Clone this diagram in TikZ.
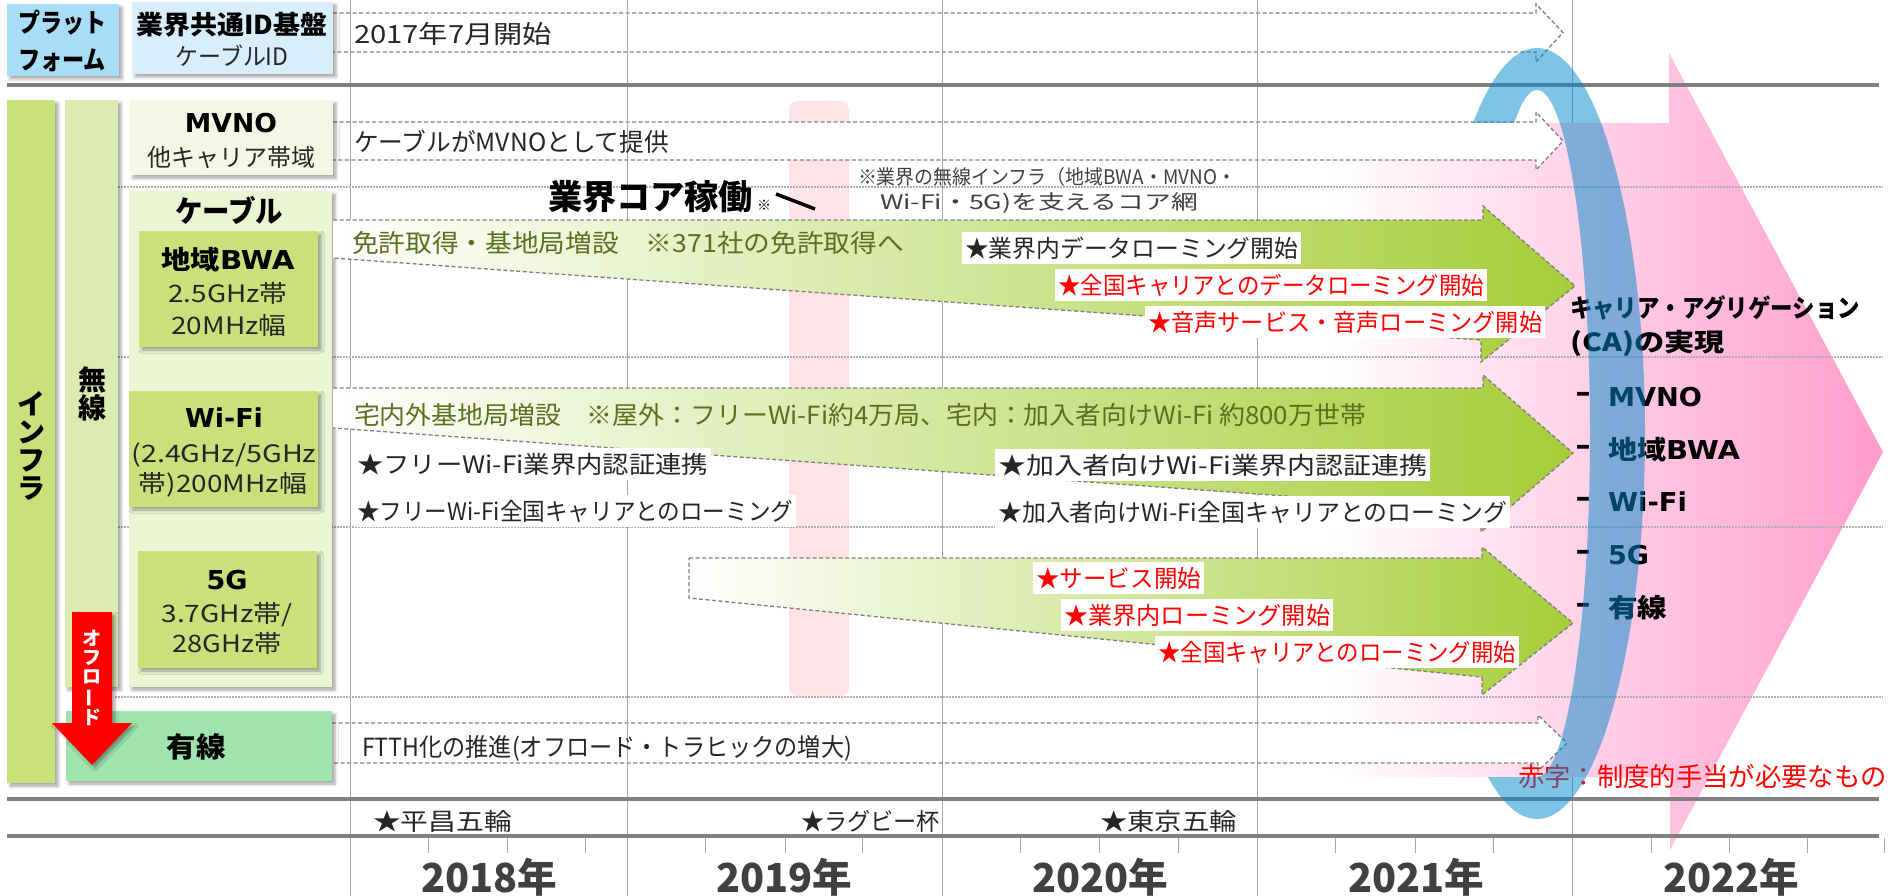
\documentclass[tikz,border=0pt]{standalone}
\usepackage{fontspec}
\setmainfont{Noto Sans CJK JP}
\newfontfamily\dvfont{DejaVu Sans}
\usepackage{graphicx}
\usetikzlibrary{shadows.blur}
\definecolor{platblue}{HTML}{A8DCF7}
\definecolor{idblue}{HTML}{D8EFFB}
\definecolor{infragreen}{HTML}{C9E07B}
\definecolor{musengreen}{HTML}{DCEBB1}
\definecolor{mvnobg}{HTML}{F3F8E4}
\definecolor{cablebg}{HTML}{EBF5D4}
\definecolor{yusengreen}{HTML}{9FE4AF}
\definecolor{pinkbar}{HTML}{FFE3E7}
\definecolor{pinkmid}{HTML}{FFD2E2}
\definecolor{pinkend}{HTML}{FF9CCC}
\definecolor{arrgreen}{HTML}{A6CE39}
\definecolor{olive}{HTML}{5B6F1F}
\definecolor{dashgray}{HTML}{7F7F7F}
\definecolor{gridgray}{HTML}{A6A6A6}
\definecolor{thickgray}{HTML}{808080}
\definecolor{dotgray}{HTML}{B0B0B0}
\definecolor{ringblue}{HTML}{0088CC}
\definecolor{txtcol}{HTML}{262626}
\definecolor{yeargray}{HTML}{404040}
\definecolor{notegray}{HTML}{404040}
\definecolor{redtxt}{HTML}{FF0000}
\newcommand{\fitw}[2]{\resizebox{#1pt}{\height}{#2}}
\newcommand{\fsz}[1]{\fontsize{#1pt}{#1pt}\selectfont}
\begin{document}
\begin{tikzpicture}[x=1pt,y=-1pt,
  sbox/.style={inner sep=0pt, outer sep=0pt, draw=none, anchor=north west,
    blur shadow={shadow xshift=3pt, shadow yshift=-3pt, shadow blur radius=3pt, shadow opacity=35}},
  txt/.style={inner sep=0pt, outer sep=0pt, text=txtcol},
  lab/.style={fill=white, inner xsep=3pt, inner ysep=0pt, minimum height=32pt, anchor=west, font=\fsz{24}},
  yr/.style={inner sep=0pt, font=\fsz{40}\bfseries, text=yeargray},
  darr/.style={draw=dashgray, line width=1.3pt, dash pattern=on 4pt off 2.5pt, fill=white},
  garr/.style={draw=dashgray, line width=1.3pt, dash pattern=on 4pt off 2.5pt, left color=white, right color=arrgreen},
  vgrid/.style={draw=gridgray, line width=1pt},
  hthick/.style={draw=thickgray, line width=3.5pt},
  hdot/.style={draw=dotgray, line width=1.3pt, dash pattern=on 1.5pt off 1.5pt},
  listdash/.style={txt, font=\fsz{30}\bfseries\dvfont, text=black},
  listlab/.style={txt, anchor=west, font=\fsz{26}\bfseries, text=black}
]
\useasboundingbox (0,0) rectangle (1889,896);

% big pink arrow
\shade[left color=white, middle color=pinkmid, right color=pinkend]
  (1330,123) -- (1669,123) -- (1669,53) -- (1883,452) -- (1670,850) -- (1670,777) -- (1330,777) -- cycle;
% pink bar 2019
\fill[pinkbar, rounded corners=8pt] (789,101) rectangle (849,696);

% white dashed arrows
\draw[darr] (333,13) -- (1536,13) -- (1536,4) -- (1563,32.5) -- (1536,62) -- (1536,52) -- (333,52);
\draw[darr] (333,122) -- (1536,122) -- (1536,112) -- (1563,141) -- (1536,170) -- (1536,160) -- (333,160);
\draw[darr] (332,723) -- (1538,723) -- (1538,715) -- (1567,743) -- (1538,771) -- (1538,763) -- (332,763);

% vertical grid
\foreach \gx in {350,627,942,1257} \draw[vgrid] (\gx,0) -- (\gx,896);
\draw[vgrid] (1572,0) -- (1572,123);
\draw[vgrid] (1572,777) -- (1572,896);
\foreach \tx in {428,507,585,705,785,862,1020,1099,1178,1335,1415,1493,1651,1729,1807,1884}
  \draw[vgrid] (\tx,838) -- (\tx,853);

% horizontal lines
\draw[hthick] (7,85) -- (1879,85);
\draw[hthick] (7,799) -- (1879,799);
\draw[hthick] (7,836) -- (1879,836);
\foreach \hy in {187,357,527,697} \draw[hdot] (115,\hy) -- (1883,\hy);

% left boxes
\node[sbox, fill=platblue, minimum width=112pt, minimum height=72pt] (plat) at (7,4) {};
\node[sbox, fill=idblue, minimum width=201pt, minimum height=72pt] (idbox) at (132,2) {};
\node[sbox, fill=infragreen, minimum width=48pt, minimum height=683pt] (infra) at (7,100) {};
\node[sbox, fill=musengreen, minimum width=53pt, minimum height=587pt] (musen) at (65,100) {};
\node[sbox, fill=mvnobg, minimum width=203pt, minimum height=75pt] (mvno) at (130,100) {};
\node[sbox, fill=cablebg, minimum width=203pt, minimum height=496pt] (cable) at (129,191) {};
\node[sbox, fill=infragreen, minimum width=179pt, minimum height=116pt] (bwa) at (139,231) {};
\node[sbox, fill=infragreen, minimum width=189pt, minimum height=116pt] (wifi) at (129,391) {};
\node[sbox, fill=infragreen, minimum width=179pt, minimum height=117pt] (g5) at (138,551) {};
\node[sbox, fill=yusengreen, minimum width=266pt, minimum height=70pt] (yusen) at (66,711) {};

% red offload arrow
\fill[redtxt, blur shadow={shadow xshift=3pt, shadow yshift=-3pt, shadow blur radius=3pt, shadow opacity=35}]
  (72,612) -- (112,612) -- (112,723) -- (132,723) -- (92,765) -- (52,723) -- (72,723) -- cycle;

% left box texts
\node[txt, font=\fsz{26}\bfseries, text=black] (tplat1) at (62,23) {\fitw{88}{プラット}};
\node[txt, font=\fsz{26}\bfseries, text=black] (tplat2) at (62,60) {\fitw{88}{フォーム}};
\node[txt, font=\fsz{26}\bfseries, text=black] (tid1) at (232,25) {\fitw{191}{業界共通ID基盤}};
\node[txt, font=\fsz{24}] (tid2) at (232,56) {\fitw{113}{ケーブルID}};
\node[txt, font=\fsz{28}\bfseries, text=black, align=center] (tinfra) at (31,446) {\fontsize{28pt}{29pt}\selectfont イ\\ン\\フ\\ラ};
\node[txt, font=\fsz{28}\bfseries, text=black, align=center] (tmusen) at (92,394) {\fontsize{28pt}{37pt}\selectfont 無\\線};
\node[txt, font=\fsz{19}\bfseries, text=white, align=center] (toff) at (92,678) {\fontsize{19pt}{23pt}\selectfont オ\\フ\\ロ\\\rotatebox[origin=c]{90}{ー}\\ド};
\node[txt, font=\fsz{26}\bfseries\dvfont, text=black] (tmvno1) at (231,123) {\fitw{92}{MVNO}};
\node[txt, font=\fsz{24}] (tmvno2) at (231,157) {\fitw{168}{他キャリア帯域}};
\node[txt, font=\fsz{30}\bfseries, text=black] (tcable) at (229,210) {\fitw{108}{ケーブル}};
\node[txt, font=\fsz{26}\bfseries, text=black] (tbwa1) at (228,260) {\fitw{133}{地域{\dvfont BWA}}};
\node[txt, font=\fsz{24}] (tbwa2) at (228,293) {\fitw{119}{2.5GHz帯}};
\node[txt, font=\fsz{24}] (tbwa3) at (229,325) {\fitw{115}{20MHz幅}};
\node[txt, font=\fsz{26}\bfseries\dvfont, text=black] (twifi1) at (224,418) {\fitw{78}{Wi-Fi}};
\node[txt, font=\fsz{24}] (twifi2) at (224,455) {\fitw{185}{(2.4GHz/5GHz}};
\node[txt, font=\fsz{24}] (twifi3) at (223,485) {\fitw{168}{帯)200MHz幅}};
\node[txt, font=\fsz{26}\bfseries\dvfont, text=black] (tg51) at (227,580) {\fitw{41}{5G}};
\node[txt, font=\fsz{24}] (tg52) at (227,615) {\fitw{131}{3.7GHz帯/}};
\node[txt, font=\fsz{24}] (tg53) at (227,643) {\fitw{109}{28GHz帯}};
\node[txt, font=\fsz{28}\bfseries, text=black] (tyusen) at (196,747) {\fitw{59}{有線}};

% green arrows
\draw[garr] (333,220) -- (1483,220) -- (1483,206) -- (1575,286) -- (1481,362) -- (1481,340) -- (333,258);
\draw[garr] (333,388) -- (1483,388) -- (1483,375) -- (1573,453) -- (1481,532) -- (1481,510) -- (333,428);
\draw[garr] (689,558) -- (1482,558) -- (1482,547) -- (1573,623) -- (1482,695) -- (1482,677) -- (689,598) -- cycle;

% timeline texts
\node[txt, anchor=west, font=\fsz{25}] (t2017) at (354,34) {\fitw{198}{2017年7月開始}};
\node[txt, anchor=west, font=\fsz{25}] (tmvnoline) at (354,142) {\fitw{315}{ケーブルがMVNOとして提供}};
\node[txt, anchor=west, font=\fsz{25}, text=olive] (tbwaline) at (352,243) {\fitw{552}{免許取得・基地局増設　※371社の免許取得へ}};
\node[txt, anchor=west, font=\fsz{25}, text=olive] (twifiline) at (354,415) {\fitw{1012}{宅内外基地局増設　※屋外：フリーWi-Fi約4万局、宅内：加入者向けWi-Fi 約800万世帯}};
\node[txt, anchor=west, font=\fsz{25}] (tftth) at (362,748) {\fitw{490}{FTTH化の推進(オフロード・トラヒックの増大)}};

% core
\node[txt, anchor=west, font=\fsz{34}\bfseries, text=black] (core) at (548,197) {\fitw{205}{業界コア稼働}};
\node[txt, anchor=west, font=\fsz{14}, text=black] (coremark) at (757,205) {※};
\coordinate (cl1) at (776,194);
\coordinate (cl2) at (815,209);
\draw[line width=3.5pt, black] (cl1) -- (cl2);
\node[txt, anchor=west, font=\fsz{20}, text=notegray] (note1) at (858,177) {\fitw{378}{※業界の無線インフラ（地域BWA・MVNO・}};
\node[txt, anchor=west, font=\fsz{20}, text=notegray] (note2) at (880,203) {\fitw{318}{Wi-Fi・5G)を支えるコア網}};

% labels in arrows
\node[lab, text=txtcol] (l1) at (962,248) {\fitw{333}{★業界内データローミング開始}};
\node[lab, text=redtxt] (l2) at (1055,285) {\fitw{426}{★全国キャリアとのデータローミング開始}};
\node[lab, text=redtxt] (l3) at (1145,322) {\fitw{394}{★音声サービス・音声ローミング開始}};
\node[lab, text=txtcol] (w1) at (354,464) {\fitw{351}{★フリーWi-Fi業界内認証連携}};
\node[lab, text=txtcol] (w2) at (354,511) {\fitw{436}{★フリーWi-Fi全国キャリアとのローミング}};
\node[lab, text=txtcol] (w3) at (995,465) {\fitw{429}{★加入者向けWi-Fi業界内認証連携}};
\node[lab, text=txtcol] (w4) at (995,512) {\fitw{509}{★加入者向けWi-Fi全国キャリアとのローミング}};
\node[lab, text=redtxt] (f1) at (1033,578) {\fitw{165}{★サービス開始}};
\node[lab, text=redtxt] (f2) at (1061,615) {\fitw{266}{★業界内ローミング開始}};
\node[lab, text=redtxt] (f3) at (1155,652) {\fitw{358}{★全国キャリアとのローミング開始}};

% events and years
\node[txt, anchor=west, font=\fsz{24}] (ev1) at (373,821) {\fitw{139}{★平昌五輪}};
\node[txt, anchor=west, font=\fsz{24}] (ev2) at (801,821) {\fitw{139}{★ラグビー杯}};
\node[txt, anchor=west, font=\fsz{24}] (ev3) at (1100,821) {\fitw{137}{★東京五輪}};
\node[yr] (y18) at (489,877) {\fitw{136}{2018年}};
\node[yr] (y19) at (784,877) {\fitw{136}{2019年}};
\node[yr] (y20) at (1100,877) {\fitw{136}{2020年}};
\node[yr] (y21) at (1416,877) {\fitw{136}{2021年}};
\node[yr] (y22) at (1731,877) {\fitw{136}{2022年}};

% right side
\node[txt, anchor=west, font=\fsz{25}\bfseries, text=black] (ca1) at (1570,308) {\fitw{290}{キャリア・アグリゲーション}};
\node[txt, anchor=west, font=\fsz{25}\bfseries, text=black] (ca2) at (1570,343) {\fitw{155}{(CA)の実現}};
\foreach \ly/\nm in {397/d1,450/d2,502/d3,555/d4,608/d5}
  \node[listdash] (\nm) at (1583,\ly) {–};
\node[listlab] (c1) at (1608,397) {\fitw{94}{\dvfont MVNO}};
\node[listlab] (c2) at (1608,450) {\fitw{132}{地域{\dvfont BWA}}};
\node[listlab] (c3) at (1608,502) {\fitw{79}{\dvfont Wi-Fi}};
\node[listlab] (c4) at (1608,555) {\fitw{41}{\dvfont 5G}};
\node[listlab] (c5) at (1608,608) {\fitw{59}{有線}};
\node[txt, anchor=west, font=\fsz{26}, text=redtxt] (redn) at (1518,777) {\fitw{369}{赤字：制度的手当が必要なもの}};

% blue ring (visible parts)
\begin{scope}
  \clip (1380,-5) rectangle (1700,123) (1537,-5) rectangle (1700,900) (1380,777) rectangle (1700,900);
  \fill[ringblue, opacity=0.5, even odd rule]
    (1537,433.5) ellipse [x radius=108, y radius=385.5]
    (1537,433.5) ellipse [x radius=53, y radius=343.5];
\end{scope}
\end{tikzpicture}
\end{document}
